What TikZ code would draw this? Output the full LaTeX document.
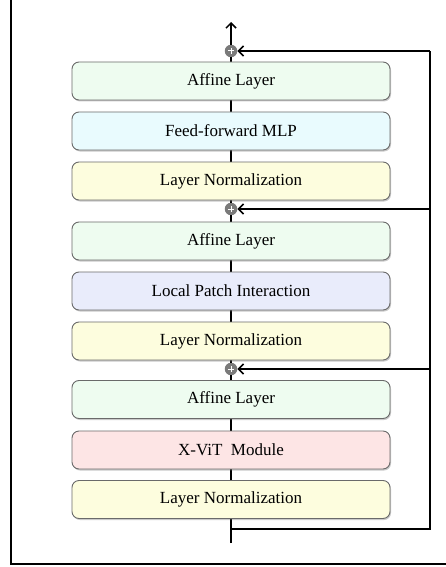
\documentclass[tikz,border=0pt]{standalone}
\usepackage{fontspec}
\setmainfont{Liberation Serif}
\usetikzlibrary{arrows.meta,shadows}
\definecolor{affc}{HTML}{EEFCF0}
\definecolor{ffc}{HTML}{E9FBFE}
\definecolor{lnc}{HTML}{FDFDDE}
\definecolor{lpic}{HTML}{E9ECFB}
\definecolor{xvc}{HTML}{FDE5E5}
\definecolor{bordc}{HTML}{6A6A6A}
\definecolor{plusc}{HTML}{7A7A7A}
\tikzset{
  blk/.style={draw=bordc, line width=0.9pt, rounded corners=7pt, minimum width=318pt, minimum height=38pt,
    inner sep=0pt, font=\fontsize{17}{20}\selectfont,
    drop shadow={shadow xshift=1pt, shadow yshift=-1.5pt, opacity=0.35, fill=black!60}},
  plusnode/.style={circle, fill=plusc, minimum size=12.5pt, inner sep=0pt},
  wire/.style={line width=1.8pt, black},
  arr/.style={line width=1.5pt, black, -{Straight Barb[length=5pt,width=10pt,line width=1.5pt]}},
}
\begin{document}
\begin{tikzpicture}[x=1pt,y=-1pt]
\useasboundingbox (0,0) rectangle (446,567);
% frame
\draw[line width=2pt] (11,0) -- (11,564) -- (446,564);
% coordinates
\coordinate (in) at (231,543);
\coordinate (br) at (231,529);
\coordinate (out) at (231,22);
\coordinate (r0) at (430,529);
\coordinate (r1) at (430,369);
\coordinate (r2) at (430,209);
\coordinate (r3) at (430,51);
% plus nodes
\node[plusnode] (p3) at (231,369) {};
\node[plusnode] (p2) at (231,209) {};
\node[plusnode] (p1) at (231,51) {};
% wires behind boxes
\draw[wire] (in) -- (br) -- (231,518);
\draw[wire] (231,481) -- (231,469);
\draw[wire] (231,431) -- (231,418);
\draw[wire] (231,381) -- (p3.south);
\draw[wire] (p3.north) -- (231,360);
\draw[wire] (231,322) -- (231,310);
\draw[wire] (231,272) -- (231,260);
\draw[wire] (231,222) -- (p2.south);
\draw[wire] (p2.north) -- (231,200);
\draw[wire] (231,162) -- (231,150);
\draw[wire] (231,112) -- (231,100);
\draw[wire] (231,62) -- (p1.south);
\draw[arr] (p1.north) -- (out);
% boxes
\node[blk, fill=lnc] (ln1) at (231,499.5) {Layer Normalization};
\node[blk, fill=xvc] (xv) at (231,450) {X-ViT~ Module};
\node[blk, fill=affc] (af1) at (231,399.5) {Affine Layer};
\node[blk, fill=lnc] (ln2) at (231,341) {Layer Normalization};
\node[blk, fill=lpic] (lpi) at (231,291) {Local Patch Interaction};
\node[blk, fill=affc] (af2) at (231,241) {Affine Layer};
\node[blk, fill=lnc] (ln3) at (231,181) {Layer Normalization};
\node[blk, fill=ffc] (ff) at (231,131) {Feed-forward MLP};
\node[blk, fill=affc] (af3) at (231,81) {Affine Layer};
% residual lines
\draw[wire, line width=1.5pt] (br) -- (r0) -- (r3);
\draw[arr] (r3) -- (p1.east);
\draw[arr] (r2) -- (p2.east);
\draw[arr] (r1) -- (p3.east);
% plus signs
\foreach \p in {p1,p2,p3}{
  \draw[white, line width=1pt] ([xshift=-2.6pt]\p.center) -- ([xshift=2.6pt]\p.center);
  \draw[white, line width=1pt] ([yshift=-2.6pt]\p.center) -- ([yshift=2.6pt]\p.center);
}
\end{tikzpicture}
\end{document}
